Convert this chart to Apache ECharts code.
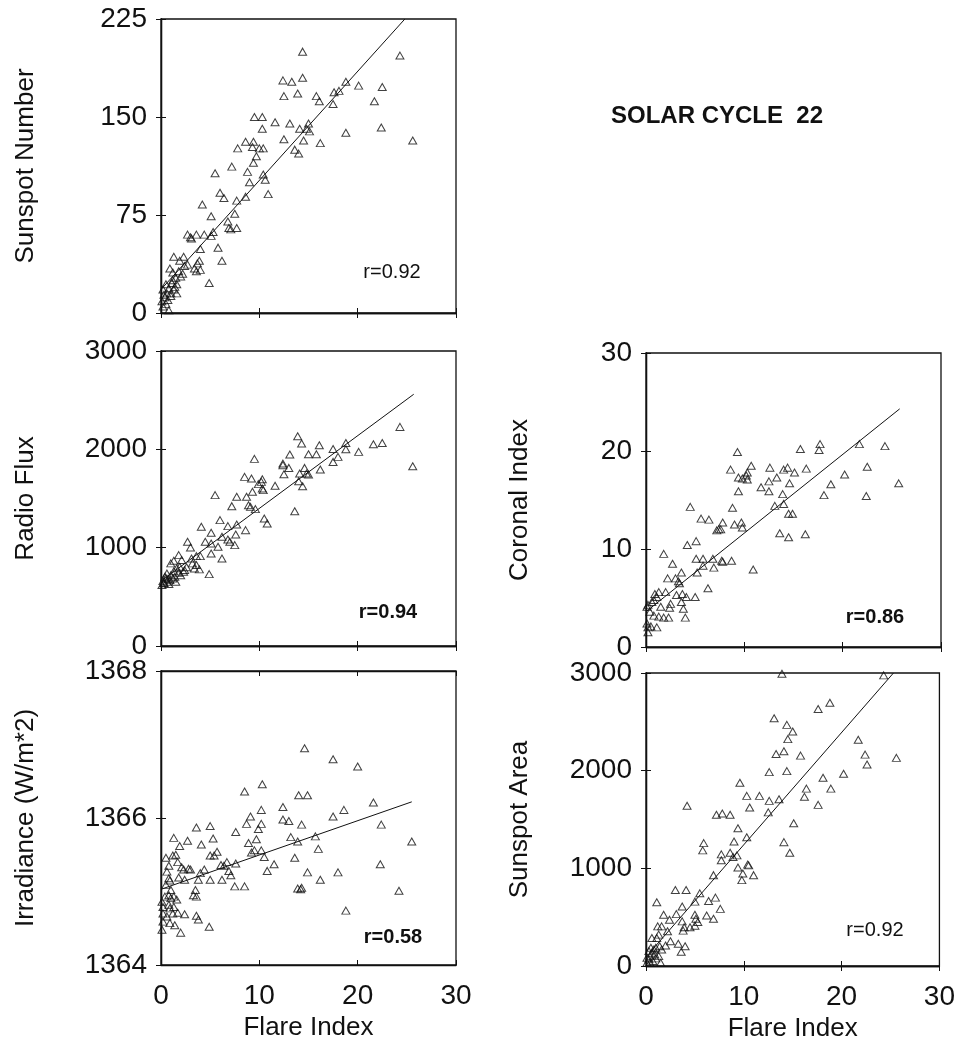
<!DOCTYPE html>
<html>
<head>
<meta charset="utf-8">
<title>Solar Cycle 22</title>
<script src="https://cdn.jsdelivr.net/npm/echarts@6/dist/echarts.min.js"></script>
<style>
  html, body { margin: 0; padding: 0; background: #fff; }
  #chart { width: 958px; height: 1043px; }
</style>
</head>
<body>
<div id="chart"></div>
<script>
// flare index (x) against each solar activity index (y)
const sunspotNumber = [
  [14.4,200],[24.3,197],[12.4,178],[13.3,177],[14.4,180],[12.5,166],[13.9,168],[15.8,166],[16.1,162],[17.5,160],
  [17.6,169],[18.1,170],[18.8,177],[20.1,174],[22.5,173],[21.7,162],[22.4,142],[25.6,132],[18.8,138],[16.2,130],
  [9.5,150],[10.3,150],[10.3,141],[11.6,146],[13.1,145],[14.1,141],[15.0,145],[14.8,141],[15.1,139],[12.5,133],
  [14.5,132],[13.6,125],[14.0,122],[8.6,131],[9.4,131],[9.3,127],[7.8,126],[10.0,126],[10.4,126],[9.7,120],
  [9.4,115],[7.2,112],[8.8,108],[5.5,107],[10.4,106],[10.6,102],[9.0,100],[10.9,91],[6.0,92],[6.4,88],
  [8.6,89],[7.7,86],[4.2,83],[7.5,76],[5.1,74],[6.8,70],[6.9,65],[7.1,64],[7.7,65],[5.3,62],
  [5.1,59],[4.4,60],[3.6,60],[2.7,60],[3.0,58],[3.1,57],[4.0,49],[5.8,50],[6.2,40],[1.3,43],
  [2.3,43],[1.9,40],[2.4,36],[3.9,40],[3.7,38],[3.4,34],[4.0,33],[3.6,32],[0.9,34],[1.2,31],
  [1.5,27],[2.0,28],[4.9,23],[0.8,19],[0.2,18],[0.6,15],[1.0,15],[1.3,18],[0.4,12],[0.1,9],
  [0.2,5],[0.8,2],[1.0,13],[1.6,22],[1.8,32],[2.7,37],[0.5,7],[1.6,15],[1.1,23],[1.4,20],
  [0.3,14],[0.7,10],[1.2,25],[0.5,22],[2.2,30]
];
const radioFlux = [
  [24.3,2228],[25.6,1828],[13.9,2133],[14.3,2059],[13.1,1947],[16.1,2042],[15.0,1950],[15.8,1950],[17.5,2004],[18.8,2065],
  [18.8,2001],[18.0,1923],[17.5,1872],[20.1,1974],[21.6,2052],[22.5,2065],[9.5,1903],[12.4,1855],[12.4,1839],[13.0,1811],
  [12.5,1747],[14.6,1811],[14.1,1754],[14.8,1754],[15.0,1744],[16.2,1795],[14.0,1676],[14.4,1625],[13.6,1371],[8.5,1720],
  [9.2,1703],[10.3,1696],[10.2,1669],[9.9,1646],[10.3,1602],[10.4,1585],[11.6,1629],[9.3,1568],[8.7,1517],[5.5,1534],
  [7.7,1517],[7.2,1422],[8.9,1432],[9.1,1415],[9.6,1392],[10.5,1297],[10.8,1246],[6.0,1280],[6.8,1219],[7.7,1236],
  [8.6,1178],[4.1,1212],[5.1,1151],[7.6,1134],[6.2,1111],[6.8,1083],[7.0,1060],[7.5,1026],[4.5,1060],[5.1,1043],
  [5.8,1009],[5.1,941],[6.2,890],[2.7,1060],[3.0,1002],[1.8,924],[1.3,867],[2.1,874],[3.1,890],[3.6,914],
  [4.0,914],[3.6,823],[3.9,779],[3.4,789],[4.9,731],[2.4,772],[1.9,806],[1.0,840],[0.6,738],[0.4,704],
  [1.4,704],[0.1,620],[0.3,637],[0.6,653],[0.9,670],[1.2,687],[0.8,630],[1.5,653],[1.8,745],[2.3,755],
  [0.2,660],[0.5,690],[1.0,720],[1.3,760],[0.7,680],[2.0,720],[2.6,800],[3.2,840],[1.6,790],[0.3,640]
];
const irradiance = [
  [14.6,1366.95],[17.5,1366.80],[20.0,1366.70],[10.3,1366.46],[8.5,1366.36],[14.0,1366.31],[14.9,1366.31],[21.6,1366.21],
  [12.4,1366.15],[10.2,1366.11],[18.6,1366.11],[9.1,1366.02],[17.5,1366.02],[12.4,1365.98],[13.0,1365.96],[22.4,1365.91],
  [14.3,1365.91],[8.7,1365.92],[10.2,1365.92],[9.9,1365.85],[5.0,1365.89],[3.6,1365.87],[7.6,1365.81],[5.3,1365.72],
  [1.3,1365.73],[2.7,1365.69],[1.9,1365.62],[4.1,1365.64],[13.2,1365.74],[13.9,1365.68],[15.7,1365.75],[16.0,1365.58],
  [25.5,1365.68],[8.9,1365.66],[9.7,1365.71],[9.2,1365.53],[9.5,1365.56],[10.2,1365.56],[10.5,1365.47],[5.7,1365.54],
  [5.0,1365.49],[5.4,1365.49],[1.5,1365.50],[1.2,1365.49],[0.5,1365.46],[1.7,1365.40],[2.1,1365.33],[2.8,1365.31],
  [3.0,1365.30],[2.3,1365.30],[4.4,1365.30],[4.0,1365.25],[6.1,1365.36],[6.7,1365.40],[6.4,1365.35],[7.6,1365.38],
  [11.5,1365.37],[13.6,1365.46],[10.8,1365.28],[6.9,1365.28],[7.1,1365.22],[6.2,1365.16],[5.0,1365.16],[3.8,1365.16],
  [2.4,1365.16],[1.8,1365.19],[14.9,1365.26],[18.0,1365.26],[22.3,1365.37],[16.2,1365.16],[7.5,1365.07],[8.5,1365.07],
  [13.9,1365.04],[14.2,1365.03],[14.3,1365.05],[24.2,1365.01],[18.8,1364.74],[3.5,1365.02],[3.3,1364.95],[3.6,1364.93],
  [3.6,1364.67],[3.8,1364.62],[4.9,1364.52],[2.0,1364.44],[1.4,1364.54],[0.9,1364.57],[0.1,1364.48],[0.2,1364.59],
  [0.6,1364.66],[1.7,1364.71],[2.4,1364.69],[0.8,1365.18],[0.6,1365.27],[0.8,1365.35],[0.9,1365.15],[0.5,1365.09],
  [0.1,1364.86],[0.2,1364.79],[0.4,1364.93],[0.8,1364.95],[1.0,1364.91],[1.3,1364.93],[0.8,1364.82],[0.9,1364.77],
  [1.3,1364.79],[0.2,1364.70],[1.0,1365.02],[1.6,1364.89],[1.2,1364.70]
];
const coronalIndex = [
  [9.3,19.9],[15.7,20.2],[17.7,20.7],[17.6,20.1],[21.7,20.7],[24.3,20.5],[25.7,16.7],[22.5,18.4],[22.4,15.4],[20.2,17.6],
  [18.8,16.6],[18.1,15.5],[16.3,18.2],[16.2,11.5],[10.7,18.5],[10.3,17.8],[10.2,17.5],[10.3,17.1],[8.6,18.1],[9.4,17.3],
  [9.8,17.2],[9.4,15.9],[8.8,14.2],[11.7,16.3],[12.5,15.9],[12.5,16.9],[12.6,18.3],[13.3,17.3],[14.0,18.1],[14.4,18.3],
  [14.6,16.7],[15.1,17.8],[13.9,15.6],[14.0,14.6],[13.1,14.4],[14.5,13.6],[14.9,13.6],[13.6,11.6],[14.5,11.2],[9.0,12.5],
  [9.7,12.7],[9.8,12.2],[7.8,12.7],[7.4,12.0],[7.6,12.0],[7.2,11.9],[4.5,14.3],[5.6,13.1],[6.4,13.0],[10.9,7.9],
  [5.1,10.8],[4.2,10.4],[1.8,9.5],[2.7,8.5],[3.6,7.6],[5.1,9.0],[5.8,9.0],[5.8,8.3],[6.8,9.0],[7.7,8.8],
  [7.8,8.7],[8.7,8.8],[6.9,8.1],[5.2,7.6],[2.2,7.0],[3.0,7.0],[3.3,6.7],[3.4,6.5],[6.3,6.0],[2.5,4.4],
  [3.1,5.3],[3.7,5.4],[4.1,5.1],[5.0,5.1],[2.4,4.0],[3.6,4.6],[4.0,3.0],[3.8,3.9],[2.0,5.6],[1.3,5.6],
  [0.9,5.4],[0.1,4.1],[0.2,4.3],[0.6,4.6],[0.8,4.8],[1.1,5.1],[0.4,3.6],[0.8,3.2],[1.3,3.1],[1.8,3.0],
  [2.3,3.0],[1.1,2.0],[0.5,2.1],[0.2,2.0],[0.2,1.5],[0.1,2.4],[1.5,4.1]
];
const sunspotArea = [
  [13.9,2993],[24.3,2976],[18.8,2695],[17.6,2631],[13.1,2537],[14.4,2469],[15.0,2401],[14.5,2323],[21.7,2317],[13.3,2171],
  [14.1,2198],[15.8,2154],[22.4,2164],[25.6,2131],[22.6,2063],[12.6,1985],[14.4,1995],[20.2,1968],[18.1,1928],[18.9,1816],
  [16.4,1816],[16.2,1732],[17.6,1650],[9.6,1877],[10.3,1742],[11.6,1742],[12.6,1691],[13.6,1708],[10.6,1623],[12.5,1573],
  [4.2,1640],[7.2,1549],[7.8,1562],[8.6,1549],[15.1,1461],[9.4,1410],[9.0,1275],[10.3,1319],[5.9,1258],[5.8,1184],
  [14.1,1268],[14.7,1160],[7.7,1143],[7.7,1082],[8.6,1160],[8.9,1116],[9.3,1133],[9.4,1008],[9.9,947],[9.8,879],
  [10.4,1038],[10.5,1030],[11.0,930],[6.9,930],[7.1,700],[6.4,666],[6.2,517],[6.9,484],[7.6,585],[3.0,778],
  [4.1,778],[5.5,744],[5.0,659],[3.7,609],[1.1,653],[1.8,524],[3.1,531],[2.4,473],[3.7,457],[3.8,362],
  [4.5,396],[5.0,524],[5.1,484],[5.3,450],[5.0,413],[3.9,396],[1.2,406],[1.6,406],[1.3,321],[2.2,355],
  [2.5,254],[2.0,210],[1.4,203],[3.3,227],[4.0,203],[3.6,145],[1.1,287],[0.6,287],[1.6,169],[0.1,34],
  [0.3,68],[0.4,101],[0.6,135],[0.8,169],[1.0,186],[0.1,84],[0.4,34],[0.7,51],[1.0,78],[1.3,101],
  [0.3,152],[1.5,34],[0.5,186],[0.9,118]
];

// fitted regression lines (end points)
const sunspotNumberFit = [[0, 18], [24.8, 225]];
const radioFluxFit = [[0, 660], [25.7, 2560]];
const irradianceFit = [[0, 1365.03], [25.5, 1366.22]];
const coronalIndexFit = [[0, 3.6], [25.8, 24.3]];
const sunspotAreaFit = [[0.5, 150], [25.3, 3000]];

const correlations = ['r=0.92', 'r=0.94', 'r=0.58', 'r=0.86', 'r=0.92'];
const yNames = ['Sunspot Number', 'Radio Flux', 'Irradiance (W/m*2)', 'Coronal Index', 'Sunspot Area'];
const yRanges = [[0, 225, 75], [0, 3000, 1000], [1364, 1368, 2], [0, 30, 10], [0, 3000, 1000]];
const xRange = [0, 30, 10];
const xName = 'Flare Index';

const panels = [
  { data: sunspotNumber, fit: sunspotNumberFit, left: 161, top: 19, height: 294, xLabels: false, nameGap: 122, rPos: [392, 272], rBold: false },
  { data: radioFlux, fit: radioFluxFit, left: 161, top: 351, height: 295, xLabels: false, nameGap: 122, rPos: [388, 612], rBold: true },
  { data: irradiance, fit: irradianceFit, left: 161, top: 671, height: 294, xLabels: true, nameGap: 122, rPos: [393, 937], rBold: true },
  { data: coronalIndex, fit: coronalIndexFit, left: 646, top: 353, height: 294, xLabels: false, nameGap: 113, rPos: [875, 617], rBold: true },
  { data: sunspotArea, fit: sunspotAreaFit, left: 646, top: 673, height: 295, xLabels: true, nameGap: 113, rPos: [875, 930], rBold: false }
];

const font = '"Liberation Sans", Arial, sans-serif';
const ink = '#111';
const plain = v => String(v);   // no thousands separators

const grids = [];
const xAxes = [];
const yAxes = [];
const series = [];
const texts = [];

panels.forEach((p, i) => {
  grids.push({
    left: p.left, top: p.top, width: 295, height: p.height,
    show: true, borderColor: ink, borderWidth: 1.3, backgroundColor: 'transparent'
  });

  const tick = { show: true, inside: true, length: 5, lineStyle: { color: ink, width: 1 } };
  const line = { show: true, lineStyle: { color: ink, width: 1.3 } };

  xAxes.push({
    gridIndex: i, type: 'value', position: 'bottom',
    min: xRange[0], max: xRange[1], interval: xRange[2],
    name: p.xLabels ? xName : '', nameLocation: 'middle', nameGap: 50,
    nameTextStyle: { fontFamily: font, fontSize: 26, color: ink },
    axisLine: line, axisTick: tick, splitLine: { show: false },
    axisLabel: { show: p.xLabels, margin: 17, fontFamily: font, fontSize: 28, color: ink, formatter: plain }
  });
  xAxes.push({
    gridIndex: i, type: 'value', position: 'top',
    min: xRange[0], max: xRange[1], interval: xRange[2],
    axisLine: line, axisTick: tick, splitLine: { show: false }, axisLabel: { show: false }
  });

  const [ymin, ymax, yint] = yRanges[i];
  yAxes.push({
    gridIndex: i, type: 'value', position: 'left',
    min: ymin, max: ymax, interval: yint,
    name: yNames[i], nameLocation: 'middle', nameGap: p.nameGap,
    nameTextStyle: { fontFamily: font, fontSize: 26, color: ink },
    axisLine: line, axisTick: tick, splitLine: { show: false },
    axisLabel: { margin: 14, fontFamily: font, fontSize: 28, color: ink, formatter: plain }
  });
  yAxes.push({
    gridIndex: i, type: 'value', position: 'right',
    min: ymin, max: ymax, interval: yint,
    axisLine: line, axisTick: tick, splitLine: { show: false }, axisLabel: { show: false }
  });

  series.push({
    type: 'scatter', xAxisIndex: 2 * i, yAxisIndex: 2 * i,
    data: p.data, symbol: 'triangle', symbolSize: [8, 7],
    itemStyle: { color: 'rgba(0,0,0,0)', borderColor: ink, borderWidth: 1 }
  });
  series.push({
    type: 'line', xAxisIndex: 2 * i, yAxisIndex: 2 * i,
    data: p.fit, symbol: 'none',
    lineStyle: { color: ink, width: 1 }
  });

  texts.push({
    type: 'text', x: p.rPos[0], y: p.rPos[1],
    style: {
      text: correlations[i], fill: ink,
      font: (p.rBold ? 'bold ' : '') + '20px ' + font,
      textAlign: 'center', textVerticalAlign: 'middle'
    }
  });
});

const chart = echarts.init(document.getElementById('chart'));
chart.setOption({
  animation: false,
  backgroundColor: '#fff',
  title: {
    text: 'SOLAR CYCLE  22', left: 606, top: 99,
    textStyle: { fontFamily: font, fontSize: 24, fontWeight: 'bold', color: ink }
  },
  grid: grids,
  xAxis: xAxes,
  yAxis: yAxes,
  series: series,
  graphic: texts
});

window.addEventListener('resize', () => chart.resize());
</script>
</body>
</html>
